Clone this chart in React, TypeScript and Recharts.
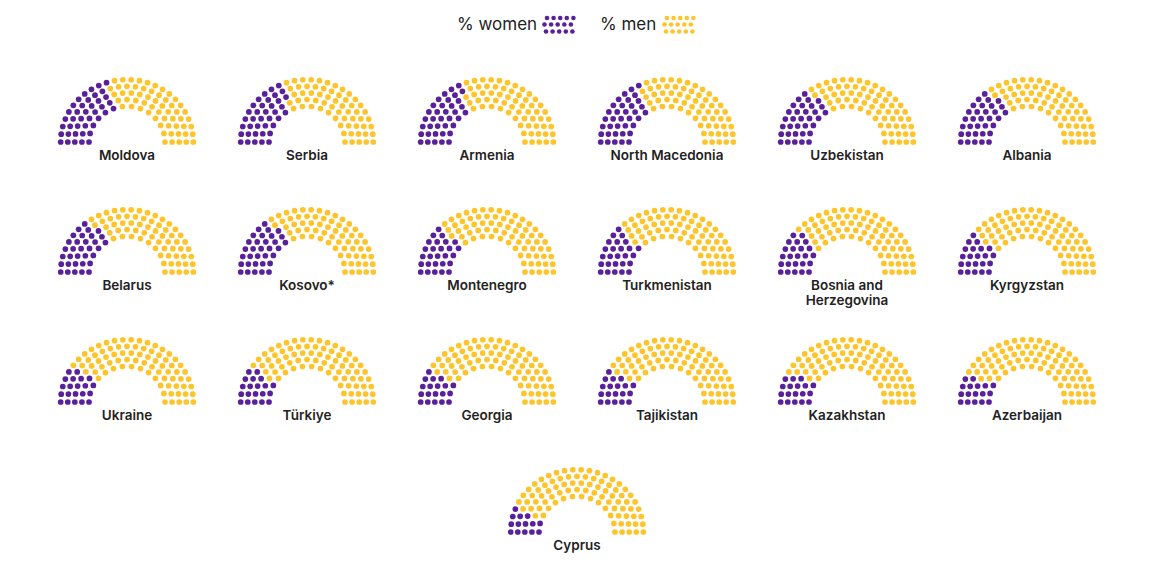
import React from 'react';
import { ScatterChart, Scatter, XAxis, YAxis } from 'recharts';

// one dot = 1% of seats, dots are handed out by angle from the left
const countries = [
  'Moldova', 'Serbia', 'Armenia', 'North Macedonia', 'Uzbekistan', 'Albania',
  'Belarus', 'Kosovo*', 'Montenegro', 'Turkmenistan', 'Bosnia and Herzegovina', 'Kyrgyzstan',
  'Ukraine', 'Türkiye', 'Georgia', 'Tajikistan', 'Kazakhstan', 'Azerbaijan',
  'Cyprus',
];
const womenShare = [41, 38, 37, 36, 33, 33, 33, 33, 27, 26, 24, 22, 21, 20, 19, 19, 18, 17, 14];

const seatsPerRing = [14, 17, 20, 23, 26];
const ringRadius = [0.573, 0.68, 0.787, 0.893, 1.0];

const PURPLE = '#58209a';
const YELLOW = '#fdc42c';
const FONT = 'Inter, "Open Sans", sans-serif';

type Seat = { x: number; y: number; angle: number; ring: number };

const buildSeats = (): Seat[] => {
  const list: Seat[] = [];
  seatsPerRing.forEach((n, ring) => {
    const r = ringRadius[ring];
    for (let j = 0; j < n; j++) {
      const angle = (Math.PI * j) / (n - 1);
      list.push({ x: -r * Math.cos(angle), y: r * Math.sin(angle), angle, ring });
    }
  });
  list.sort((a, b) => a.angle - b.angle || b.ring - a.ring);
  return list;
};
const seats = buildSeats();

const PANEL_W = 150;
const PANEL_H = 72;

const dot = (color: string, r = 2.85) => (p: any) => <circle cx={p.cx} cy={p.cy} r={r} fill={color} />;

const Parliament = ({ name, women, cx, baseY }: { name: string; women: number; cx: number; baseY: number }) => (
  <>
    <div style={{ position: 'absolute', left: cx - PANEL_W / 2, top: baseY - 68 }}>
      <ScatterChart width={PANEL_W} height={PANEL_H} margin={{ top: 0, right: 0, bottom: 0, left: 0 }}>
        <XAxis type='number' dataKey='x' domain={[-1.131, 1.131]} allowDataOverflow hide />
        <YAxis type='number' dataKey='y' domain={[-0.064, 1.09]} allowDataOverflow hide />
        <Scatter data={seats.slice(0, women)} shape={dot(PURPLE)} isAnimationActive={false} />
        <Scatter data={seats.slice(women)} shape={dot(YELLOW)} isAnimationActive={false} />
      </ScatterChart>
    </div>
    <div
      style={{
        position: 'absolute',
        left: cx - 65,
        width: 130,
        top: baseY + 6,
        textAlign: 'center',
        fontFamily: FONT,
        fontWeight: 600,
        fontSize: 13.5,
        lineHeight: '15px',
        color: '#222',
      }}
    >
      {name}
    </div>
  </>
);

const LegendDots = ({ color }: { color: string }) => {
  const rows = [
    { y: 3, x0: 5 },
    { y: 9.5, x0: 2.5 },
    { y: 16.5, x0: 4 },
  ];
  return (
    <svg width={40} height={20} style={{ display: 'block' }}>
      {rows.map((row, i) =>
        [0, 1, 2, 3, 4].map((k) => <circle key={`${i}-${k}`} cx={row.x0 + k * 6.6} cy={row.y} r={2.3} fill={color} />)
      )}
    </svg>
  );
};

const App = () => {
  const legendText: React.CSSProperties = {
    position: 'absolute',
    top: 14,
    fontFamily: FONT,
    fontSize: 17,
    lineHeight: '20px',
    color: '#222',
    whiteSpace: 'nowrap',
  };
  return (
    <div style={{ position: 'absolute', left: 0, top: 0, width: 1157, height: 565, background: '#fff' }}>
      <div style={{ ...legendText, left: 457 }}>% women</div>
      <div style={{ position: 'absolute', left: 542, top: 15 }}>
        <LegendDots color={PURPLE} />
      </div>
      <div style={{ ...legendText, left: 600 }}>% men</div>
      <div style={{ position: 'absolute', left: 662, top: 15 }}>
        <LegendDots color={YELLOW} />
      </div>
      {countries.map((name, i) => {
        const last = i === countries.length - 1;
        const cx = last ? 577 : 127 + 180 * (i % 6);
        const baseY = last ? 531.7 : 141.7 + 130 * Math.floor(i / 6);
        return <Parliament key={name} name={name} women={womenShare[i]} cx={cx} baseY={baseY} />;
      })}
    </div>
  );
};

export default App;
